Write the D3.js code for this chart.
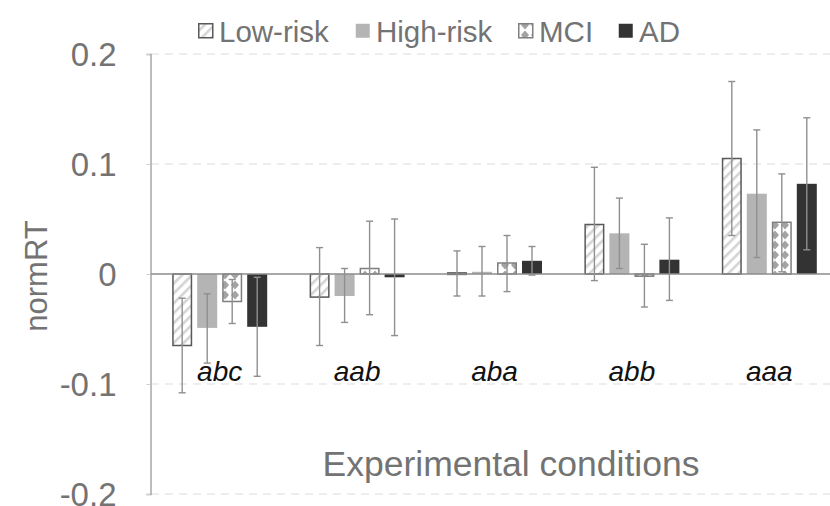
<!DOCTYPE html>
<html><head><meta charset="utf-8">
<script src="https://cdn.jsdelivr.net/npm/d3@7"></script>
<style>body{margin:0;background:#fff}svg{display:block}</style>
</head><body>
<svg id="chart" width="830" height="506"></svg>
<script>
const categories = ["abc", "aab", "aba", "abb", "aaa"];
const seriesNames = ["Low-risk", "High-risk", "MCI", "AD"];
const lowRisk  = [-0.065, -0.021, 0.001, 0.045, 0.105];
const highRisk = [-0.049, -0.020, 0.002, 0.037, 0.073];
const mci      = [-0.025,  0.005, 0.010, -0.002, 0.047];
const ad       = [-0.048, -0.003, 0.012, 0.013, 0.082];
// error bar bounds (upper, lower)
const lowRiskErrHi  = [-0.022, 0.024, 0.021, 0.097, 0.175];
const lowRiskErrLo  = [-0.108, -0.065, -0.020, -0.006, 0.035];
const highRiskErrHi = [-0.018, 0.005, 0.025, 0.069, 0.131];
const highRiskErrLo = [-0.081, -0.044, -0.020, 0.005, 0.015];
const mciErrHi      = [-0.005, 0.048, 0.035, 0.027, 0.091];
const mciErrLo      = [-0.045, -0.037, -0.016, -0.030, 0.002];
const adErrHi       = [-0.003, 0.050, 0.025, 0.051, 0.142];
const adErrLo       = [-0.093, -0.056, -0.001, -0.024, 0.022];
const yTicks = [-0.2, -0.1, 0, 0.1, 0.2];
const yTickLabels = ["-0.2", "-0.1", "0", "0.1", "0.2"];
const xTitle = "Experimental conditions";
const yTitle = "normRT";

const values = [lowRisk, highRisk, mci, ad];
const errHi = [lowRiskErrHi, highRiskErrHi, mciErrHi, adErrHi];
const errLo = [lowRiskErrLo, highRiskErrLo, mciErrLo, adErrLo];

const svg = d3.select("#chart");
const textColor = "#737373";
const font = "'Liberation Sans', Arial, sans-serif";

const defs = svg.append("defs");
// Low-risk diagonal stripes
const p1 = defs.append("pattern").attr("id", "stripes").attr("patternUnits", "userSpaceOnUse")
  .attr("width", 7).attr("height", 7).attr("patternTransform", "rotate(45)");
p1.append("rect").attr("width", 7).attr("height", 7).attr("fill", "#fff");
p1.append("rect").attr("x", 0).attr("width", 2.6).attr("height", 7).attr("fill", "#d4d4d4");
// MCI diamond pattern
const p2 = defs.append("pattern").attr("id", "diamonds").attr("patternUnits", "userSpaceOnUse")
  .attr("width", 10).attr("height", 10);
p2.append("rect").attr("width", 10).attr("height", 10).attr("fill", "#fff");
p2.append("path").attr("d", "M5,0.5 L9,5 L5,9.5 L1,5 Z").attr("fill", "#a3a3a3");

const fills = ["url(#stripes)", "#b4b4b4", "url(#diamonds)", "#333333"];
const strokes = ["#595959", "none", "#7f7f7f", "none"];

const y = d3.scaleLinear().domain([-0.2, 0.2]).range([494, 54]);
const x = d3.scaleBand().domain(categories).range([151, 838]).padding(0);
const inner = d3.scaleBand().domain(seriesNames).range([0, 95]).paddingInner(0.2);
const groupX = c => x(c) + x.bandwidth() / 2 - 47.5;

// gridlines
svg.append("g").selectAll("line").data(yTicks.filter(t => t !== 0)).join("line")
  .attr("x1", 151).attr("x2", 830).attr("y1", d => y(d)).attr("y2", d => y(d))
  .attr("stroke", "#dcdcdc").attr("stroke-width", 1.2).attr("stroke-dasharray", "8,6");

// y axis
const yAxis = d3.axisLeft(y).tickValues(yTicks).tickFormat((d, i) => yTickLabels[i]).tickSize(4).tickPadding(30);
const ya = svg.append("g").attr("transform", "translate(150.5,0)").call(yAxis);
ya.select(".domain").attr("stroke", "#9a9a9a").attr("stroke-width", 1.3);
ya.selectAll(".tick line").attr("stroke", "#d0d0d0");
ya.selectAll(".tick text").attr("fill", textColor).attr("font-size", 33).attr("font-family", font).attr("dy", "0.35em");

// bars
values.forEach((vals, si) => {
  const g = svg.append("g");
  g.selectAll("rect").data(categories).join("rect")
    .attr("x", (c) => groupX(c) + inner(seriesNames[si]) + (strokes[si] !== "none" ? 0.75 : 0))
    .attr("width", inner.bandwidth() - (strokes[si] !== "none" ? 1.5 : 0))
    .attr("y", (c, i) => Math.min(y(vals[i]), y(0)))
    .attr("height", (c, i) => Math.max(Math.abs(y(vals[i]) - y(0)), 1.5))
    .attr("fill", fills[si])
    .attr("stroke", strokes[si]).attr("stroke-width", 1.5);
});

// zero line
svg.append("line").attr("x1", 151).attr("x2", 830).attr("y1", y(0)).attr("y2", y(0))
  .attr("stroke", "#8c8c8c").attr("stroke-width", 1.5);

// error bars
values.forEach((vals, si) => {
  const g = svg.append("g").attr("stroke", "#8f8f8f").attr("stroke-width", 1.4);
  categories.forEach((c, i) => {
    const cx = groupX(c) + inner(seriesNames[si]) + inner.bandwidth() / 2;
    const hi = y(errHi[si][i]), lo = y(errLo[si][i]);
    g.append("line").attr("x1", cx).attr("x2", cx).attr("y1", hi).attr("y2", lo);
    g.append("line").attr("x1", cx - 3.5).attr("x2", cx + 3.5).attr("y1", hi).attr("y2", hi);
    g.append("line").attr("x1", cx - 3.5).attr("x2", cx + 3.5).attr("y1", lo).attr("y2", lo);
  });
});

// category labels
svg.append("g").selectAll("text").data(categories).join("text")
  .attr("x", c => x(c) + x.bandwidth() / 2)
  .attr("y", 381)
  .attr("text-anchor", "middle")
  .attr("font-family", font).attr("font-style", "italic").attr("font-size", 28)
  .attr("fill", "#111").text(d => d);

// axis titles
svg.append("text").attr("x", 511).attr("y", 476).attr("text-anchor", "middle")
  .attr("font-family", font).attr("font-size", 35.5).attr("fill", textColor).text(xTitle);
svg.append("text").attr("transform", "translate(47,276) rotate(-90)").attr("text-anchor", "middle")
  .attr("font-family", font).attr("font-size", 31).attr("fill", textColor).text(yTitle);

// legend
const legendX = [198, 355, 518, 618];
const lg = svg.append("g");
seriesNames.forEach((s, i) => {
  lg.append("rect").attr("x", legendX[i] + 0.75).attr("y", 23.75).attr("width", 14).attr("height", 14)
    .attr("fill", fills[i]).attr("stroke", strokes[i]).attr("stroke-width", 1.5);
  lg.append("text").attr("x", legendX[i] + 21).attr("y", 42)
    .attr("font-family", font).attr("font-size", 29.5).attr("fill", textColor).text(s);
});
</script>
</body></html>
